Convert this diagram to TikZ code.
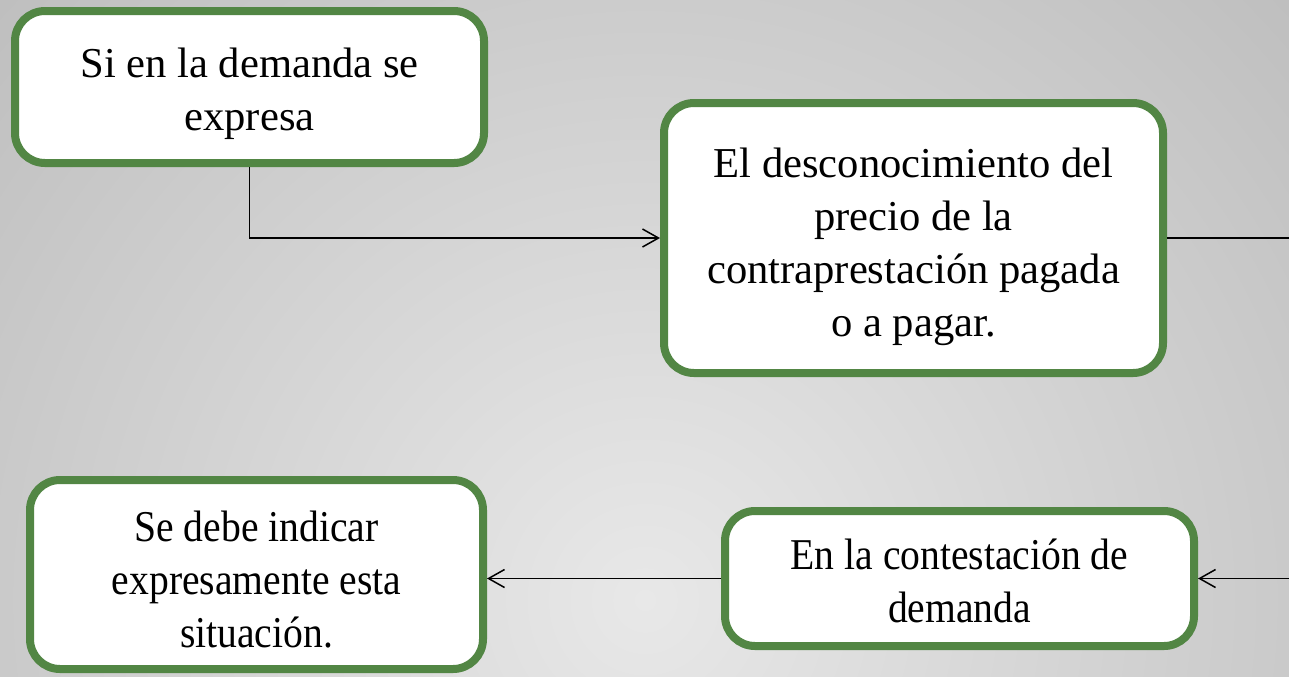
\documentclass[tikz,border=0pt]{standalone}
\usepackage{fontspec}
\setmainfont{Liberation Serif}
\newfontfamily\narrowserif[FakeStretch=0.9]{Liberation Serif}
\usetikzlibrary{arrows.meta}
\definecolor{boxgreen}{RGB}{82,134,68}
\definecolor{bglight}{RGB}{232,232,232}
\definecolor{bgdark}{RGB}{190,190,190}
\newcommand{\textdrop}[1]{\rule{0pt}{#1}}
\tikzset{
  greenbox/.style={draw=boxgreen,line width=4pt,fill=white,rounded corners=15pt,
    align=center,inner sep=0pt,font=\fontsize{21.3}{26.5}\selectfont},
  narrowbox/.style={greenbox,font=\narrowserif\fontsize{22}{26.5}\selectfont},
  link/.style={draw=black,line width=0.75pt,-{Straight Barb[length=8pt,width=9pt,line width=0.75pt]}}
}
\begin{document}
\begin{tikzpicture}[x=0.5pt,y=-0.5pt]
 \useasboundingbox (0,0) rectangle (1289,676);
 \clip (0,0) rectangle (1289,676);
 \shade[inner color=bglight,outer color=bgdark] (645,600) circle (900);
 \node[greenbox,minimum width=234.5pt,minimum height=76pt] (demanda) at (249.5,87)
   {\textdrop{21.5pt}Si en la demanda se\\expresa};
 \node[greenbox,minimum width=249.5pt,minimum height=135pt] (precio) at (913.5,238)
   {\textdrop{23.5pt}El desconocimiento del\\precio de la\\contraprestación pagada\\o a pagar.};
 \node[narrowbox,minimum width=226.5pt,minimum height=94.5pt] (situacion) at (256.5,574.5)
   {\textdrop{20pt}Se debe indicar\\expresamente esta\\situación.};
 \node[narrowbox,minimum width=234.5pt,minimum height=67.5pt] (contestacion) at (959.5,578.5)
   {\textdrop{18pt}En la contestación de\\demanda};
 \coordinate (vuelta) at (1340,400);
 \draw[link] (demanda.south) |- (precio.west);
 \draw[link] (precio.east) -| (vuelta) |- (contestacion.east);
 \draw[link] (contestacion.west) -- (situacion.east |- contestacion.west);
\end{tikzpicture}
\end{document}
